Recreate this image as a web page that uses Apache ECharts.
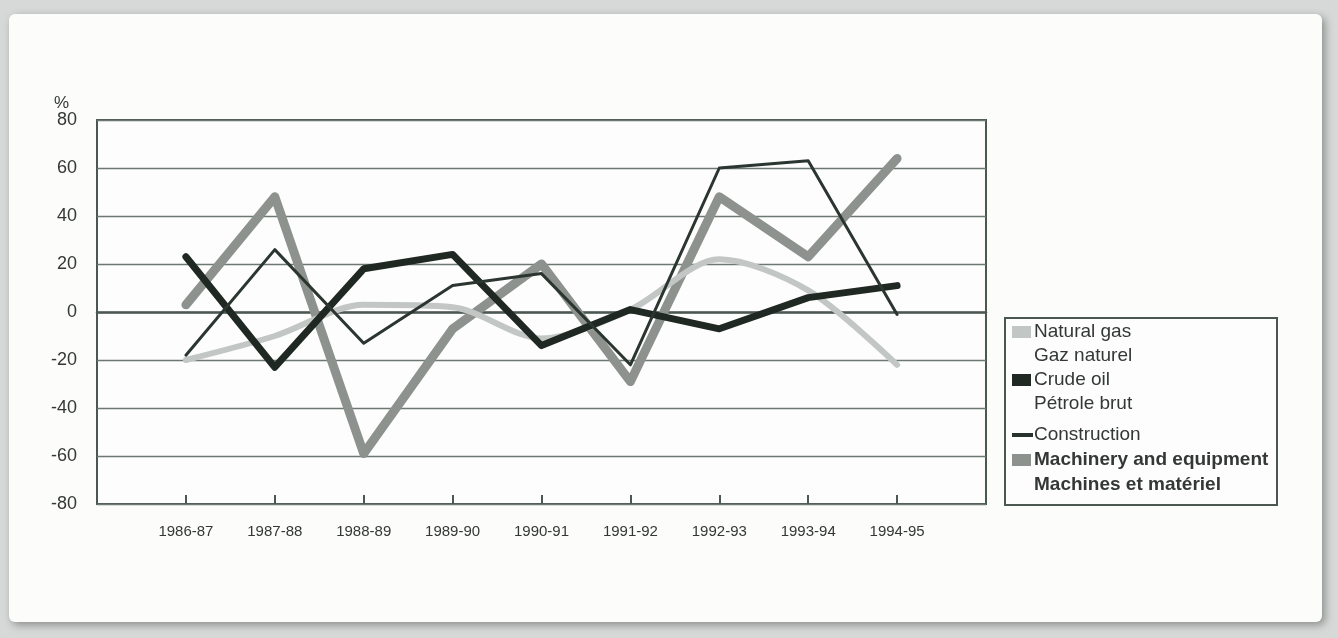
<!DOCTYPE html>
<html>
<head>
<meta charset="utf-8">
<script src="https://cdn.jsdelivr.net/npm/echarts@6/dist/echarts.min.js"></script>
<style>
html,body{margin:0;padding:0;background:#d6d9d7;}
#chart{width:1338px;height:638px;}
</style>
</head>
<body>
<div id="chart"></div>
<script>
const years = ['1986-87','1987-88','1988-89','1989-90','1990-91','1991-92','1992-93','1993-94','1994-95'];
const naturalGas = [-20, -10, 3, 2, -11, 1, 22, 9, -22];
const crudeOil = [23, -23, 18, 24, -14, 1, -7, 6, 11];
const construction = [-18, 26, -13, 11, 16, -22, 60, 63, -1];
const machinery = [3, 48, -59, -7, 20, -29, 48, 23, 64];
const yTicks = {min: -80, max: 80, step: 20};
const legendItems = [
  {en: 'Natural gas', fr: 'Gaz naturel'},
  {en: 'Crude oil', fr: 'Pétrole brut'},
  {en: 'Construction', fr: ''},
  {en: 'Machinery and equipment', fr: 'Machines et matériel'}
];

const cats = [''].concat(years, ['']);
const pad = arr => [null].concat(arr, [null]);
const FONT = "'Liberation Sans Narrow','Arial Narrow','Liberation Sans',Arial,sans-serif";
const FONT_REG = "'Liberation Sans',Arial,sans-serif";
const txt = '#333836';
const frame = '#4b5751';

const chart = echarts.init(document.getElementById('chart'), null, {renderer: 'canvas'});

function lineSeries(name, data, color, width, smooth, z) {
  return {
    name: name, type: 'line', data: pad(data), xAxisIndex: 0,
    symbol: 'none', smooth: smooth, z: z,
    lineStyle: {color: color, width: width, cap: 'round', join: 'round'},
    itemStyle: {color: color},
    emphasis: {disabled: true}
  };
}

const legendGraphics = [];
legendGraphics.push({type: 'rect', z: 5, shape: {x: 1005, y: 318, width: 272, height: 187},
  style: {fill: '#fdfdfd', stroke: frame, lineWidth: 2}});
const rows = [
  {y: 332, text: legendItems[0].en},
  {y: 356, text: legendItems[0].fr},
  {y: 380, text: legendItems[1].en},
  {y: 404, text: legendItems[1].fr},
  {y: 435, text: legendItems[2].en},
  {y: 460, text: legendItems[3].en, bold: true},
  {y: 485, text: legendItems[3].fr, bold: true}
];
rows.forEach(r => legendGraphics.push({type: 'text', z: 6, x: 1034, y: r.y,
  style: {text: r.text, fill: txt, font: (r.bold ? 'bold ' : '') + '19px ' + FONT, textVerticalAlign: 'middle', verticalAlign: 'middle'}}));
legendGraphics.push({type: 'rect', z: 6, shape: {x: 1012, y: 326, width: 19, height: 12}, style: {fill: '#c2c6c4'}});
legendGraphics.push({type: 'rect', z: 6, shape: {x: 1012, y: 374, width: 19, height: 12}, style: {fill: '#1f2823'}});
legendGraphics.push({type: 'rect', z: 6, shape: {x: 1012, y: 433, width: 21, height: 4}, style: {fill: '#28332d'}});
legendGraphics.push({type: 'rect', z: 6, shape: {x: 1012, y: 454, width: 19, height: 12}, style: {fill: '#8d928f'}});

const option = {
  animation: false,
  backgroundColor: '#d6d9d7',
  graphic: [
    {type: 'rect', z: -10, shape: {x: 9, y: 14, width: 1313, height: 608, r: 6},
      style: {fill: '#fcfcfb', shadowBlur: 8, shadowColor: 'rgba(0,0,0,0.35)', shadowOffsetX: 3, shadowOffsetY: 3}},
    {type: 'text', z: 5, x: 54, y: 103,
      style: {text: '%', fill: txt, font: '17px ' + FONT_REG, textVerticalAlign: 'middle', verticalAlign: 'middle'}}
  ].concat(legendGraphics),
  grid: {left: 97, right: 352, top: 120, bottom: 134, show: true, borderColor: frame, borderWidth: 2, backgroundColor: '#fdfdfd'},
  xAxis: [
    {
      type: 'category', data: cats, boundaryGap: false,
      axisLine: {show: false, onZero: false},
      axisTick: {show: true, inside: true, length: 9, lineStyle: {color: frame, width: 2},
        interval: function (i) { return i > 0 && i < cats.length - 1; }},
      axisLabel: {interval: 0, margin: 20, color: txt, fontSize: 15, fontFamily: FONT},
      splitLine: {show: false}
    },
    {
      type: 'category', data: cats, boundaryGap: false, position: 'bottom',
      axisLine: {show: true, onZero: true, lineStyle: {color: frame, width: 2.5}},
      axisTick: {show: false}, axisLabel: {show: false}, splitLine: {show: false}
    }
  ],
  yAxis: {
    type: 'value', min: yTicks.min, max: yTicks.max, interval: yTicks.step,
    axisLine: {show: false}, axisTick: {show: false},
    axisLabel: {margin: 20, color: txt, fontSize: 18, fontFamily: FONT_REG},
    splitLine: {show: true, lineStyle: {color: '#6c7872', width: 1.3}}
  },
  series: [
    lineSeries('Machinery and equipment', machinery, '#8d928f', 9, false, 2),
    lineSeries('Natural gas', naturalGas, '#c2c6c4', 6, 0.3, 3),
    lineSeries('Crude oil', crudeOil, '#1f2823', 7, false, 4),
    lineSeries('Construction', construction, '#2b3630', 3, false, 5)
  ]
};
chart.setOption(option);
</script>
</body>
</html>
